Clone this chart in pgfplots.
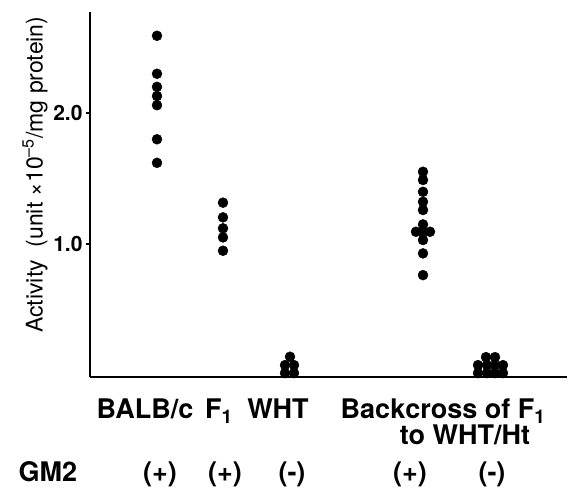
\documentclass[border=0pt]{standalone}
\usepackage{fontspec}
\setmainfont{TeX Gyre Heros}
\usepackage{pgfplots}
\pgfplotsset{compat=1.18}
\begin{document}
\begin{tikzpicture}
\begin{axis}[
    scale only axis,
    width=477pt, height=365pt,
    xmin=90, xmax=567, ymin=-0.015, ymax=2.771,
    axis x line=bottom, axis y line=left,
    axis line style={-, line width=1.6pt},
    xtick=\empty, ytick={1,2},
    tick align=outside, major tick length=4pt,
    tick style={line width=1.2pt, black},
    yticklabel style={font=\bfseries\fontsize{21}{21}\selectfont,
        /pgf/number format/.cd, fixed, fixed zerofill, precision=1, assume math mode=true},
    clip=false,
]
% BALB/c
\addplot[only marks, mark=*, mark size=5pt, black] coordinates {
    (157,2.59) (157,2.30) (157,2.20) (157,2.13) (157,2.06) (157,1.80) (157,1.62)
};
% F1
\addplot[only marks, mark=*, mark size=5pt, black] coordinates {
    (223,1.316) (223,1.204) (223,1.120) (223,1.051) (223,0.949)
};
% WHT
\addplot[only marks, mark=*, mark size=5pt, black] coordinates {
    (290,0.14) (285,0.076) (294,0.076) (285,0.015) (294,0.015)
};
% Backcross (+)
\addplot[only marks, mark=*, mark size=5pt, black] coordinates {
    (423,1.552) (423,1.489) (423,1.399) (423,1.323) (423,1.260) (423,1.150)
    (423,1.094) (416,1.094) (430,1.094) (423,1.031) (423,0.929) (423,0.763)
};
% Backcross (-)
\addplot[only marks, mark=*, mark size=5pt, black] coordinates {
    (486,0.137) (495,0.137)
    (478,0.076) (487,0.076) (495,0.076) (503,0.076)
    (478,0.015) (487,0.015) (495,0.015) (503,0.015)
};

\node[rotate=90, font=\fontsize{23}{23}\selectfont] at (axis cs:35,1.53)
    {Activity\ \ (unit ×10\textsuperscript{--5}/mg protein)};

\begin{scope}[every node/.style={anchor=base, font=\bfseries\fontsize{27}{27}\selectfont}]
\node at (axis cs:145,-0.335) {BALB/c};
\node at (axis cs:219,-0.335) {F\textsubscript{1}};
\node at (axis cs:278,-0.335) {WHT};
\node at (axis cs:443,-0.335) {Backcross of F\textsubscript{1}};
\node at (axis cs:465,-0.528) {to WHT/Ht};
\node at (axis cs:48,-0.815) {GM2};
\node at (axis cs:160,-0.815) {(+)};
\node at (axis cs:225,-0.815) {(+)};
\node at (axis cs:292,-0.815) {(-)};
\node at (axis cs:410,-0.815) {(+)};
\node at (axis cs:492,-0.815) {(-)};
\end{scope}

\path (axis cs:0,2.863) rectangle (axis cs:571,-0.878);
\end{axis}
\end{tikzpicture}
\end{document}
